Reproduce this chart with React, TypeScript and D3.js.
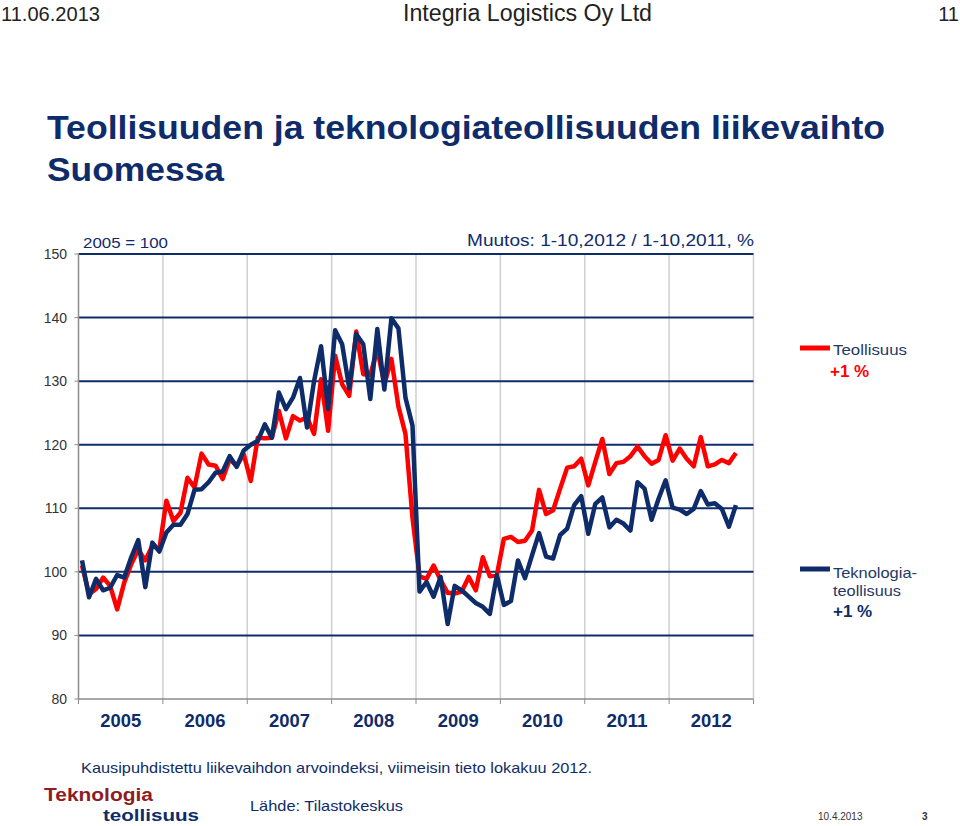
import React from "react";
import * as d3 from "d3";

const years = ["2005", "2006", "2007", "2008", "2009", "2010", "2011", "2012"];
const yTicks = [80, 90, 100, 110, 120, 130, 140, 150];

// Monthly index values Jan 2005 - Oct 2012 (2005 = 100)
const teollisuus = [
  101.0, 96.5, 97.3, 99.1, 97.8, 94.1, 98.3, 101.2, 103.5, 101.8, 104.1, 103.6,
  111.2, 108.0, 109.3, 114.8, 113.3, 118.6, 116.9, 116.7, 114.6, 117.7, 116.7, 118.5,
  114.3, 121.1, 121.0, 121.1, 125.3, 121.0, 124.5, 123.8, 124.3, 121.7, 130.3, 122.2,
  134.0, 129.5, 127.7, 137.8, 131.1, 131.0, 135.0, 129.5, 133.5, 126.0, 121.7, 108.5,
  99.3, 98.9, 101.0, 98.7, 96.7, 96.6, 96.9, 99.2, 97.1, 102.3, 99.3, 99.5,
  105.2, 105.5, 104.7, 104.9, 106.5, 112.9, 109.1, 109.7, 113.1, 116.4, 116.6, 117.8,
  113.6, 117.3, 120.9, 115.4, 117.1, 117.3, 118.2, 119.7, 118.2, 117.0, 117.6, 121.5,
  117.5, 119.4, 117.8, 116.6, 121.2, 116.6, 116.9, 117.6, 117.1, 118.7,
];
const teknologiateollisuus = [
  101.8, 96.0, 98.9, 97.1, 97.5, 99.5, 99.1, 102.3, 105.0, 97.6, 104.6, 103.2,
  106.2, 107.4, 107.4, 109.1, 112.9, 113.0, 114.1, 115.6, 115.8, 118.2, 116.5, 119.1,
  120.0, 120.6, 123.2, 121.1, 128.2, 125.6, 127.4, 130.5, 122.7, 130.0, 135.5, 125.6,
  138.0, 135.8, 128.9, 137.4, 135.8, 127.2, 138.2, 128.7, 139.9, 138.3, 127.4, 123.0,
  96.9, 98.4, 96.1, 99.2, 91.8, 97.8, 97.1, 96.1, 95.1, 94.5, 93.4, 99.5,
  94.8, 95.4, 101.8, 99.0, 102.6, 106.1, 102.4, 102.1, 105.8, 106.8, 110.5, 111.9,
  106.0, 110.7, 111.7, 107.0, 108.2, 107.6, 106.5, 114.1, 113.1, 108.2, 111.5, 114.4,
  110.1, 109.8, 109.1, 109.9, 112.7, 110.6, 110.8, 109.9, 107.1, 110.5,
];

const NAVY = "#0f2c6a";
const RED = "#ff0000";
const FONT = "'Liberation Sans', Arial, sans-serif";

export default function App() {
  const x = d3.scaleLinear().domain([0, years.length * 12]).range([78.5, 753.5]);
  const y = d3.scaleLinear().domain([80, 150]).range([699, 254]);
  const line = d3
    .line<number>()
    .x((_, i) => x(i + 0.5))
    .y((d) => y(d));

  return (
    <svg
      width={960}
      height={826}
      style={{ position: "absolute", left: 0, top: 0, background: "#fff" }}
      fontFamily={FONT}
    >
      {/* page header */}
      <text x={1} y={21} fontSize={20} fill="#222" textLength={99} lengthAdjust="spacingAndGlyphs">11.06.2013</text>
      <text x={403} y={21} fontSize={23} fill="#222" textLength={249} lengthAdjust="spacingAndGlyphs">Integria Logistics Oy Ltd</text>
      <text x={959} y={21} fontSize={20} fill="#222" textAnchor="end">11</text>

      {/* title */}
      <text x={47} y={139} fontSize={33} fontWeight="bold" fill={NAVY} textLength={838} lengthAdjust="spacingAndGlyphs">
        Teollisuuden ja teknologiateollisuuden liikevaihto
      </text>
      <text x={47} y={181} fontSize={33} fontWeight="bold" fill={NAVY} textLength={177} lengthAdjust="spacingAndGlyphs">
        Suomessa
      </text>

      {/* subtitles */}
      <text x={83} y={248} fontSize={14} fill={NAVY} textLength={85} lengthAdjust="spacingAndGlyphs">2005 = 100</text>
      <text x={754} y={246} fontSize={17} fill={NAVY} textAnchor="end" textLength={287} lengthAdjust="spacingAndGlyphs">
        Muutos: 1-10,2012 / 1-10,2011, %
      </text>

      {/* vertical year gridlines */}
      {years.map((_, k) => (
        <line key={"vg" + k} x1={x((k + 1) * 12)} x2={x((k + 1) * 12)} y1={y(150)} y2={y(80)} stroke="#cfcfcf" strokeWidth={1.5} />
      ))}

      {/* horizontal gridlines */}
      {yTicks.map((t) =>
        t === 80 ? null : (
          <line key={"hg" + t} x1={x(0)} x2={x(96)} y1={y(t)} y2={y(t)} stroke={NAVY} strokeWidth={2} />
        )
      )}

      {/* axes */}
      <line x1={x(0)} x2={x(0)} y1={y(150)} y2={y(80)} stroke="#8c8c8c" strokeWidth={1.5} />
      <line x1={x(0)} x2={x(96)} y1={y(80)} y2={y(80)} stroke="#8c8c8c" strokeWidth={1.5} />
      {yTicks.map((t) => (
        <g key={"yt" + t}>
          <line x1={x(0) - 4} x2={x(0)} y1={y(t)} y2={y(t)} stroke="#8c8c8c" strokeWidth={1} />
          <text x={67} y={y(t) + 5} fontSize={14} fill="#333" textAnchor="end">{t}</text>
        </g>
      ))}
      {d3.range(years.length + 1).map((k) => (
        <line key={"xt" + k} x1={x(k * 12)} x2={x(k * 12)} y1={y(80)} y2={y(80) + 5} stroke="#8c8c8c" strokeWidth={1} />
      ))}
      {years.map((yr, k) => (
        <text key={yr} x={x(k * 12 + 6)} y={727} fontSize={18} fontWeight="bold" fill={NAVY} textAnchor="middle" textLength={41} lengthAdjust="spacingAndGlyphs">
          {yr}
        </text>
      ))}

      {/* series */}
      <path d={line(teollisuus) || ""} fill="none" stroke={RED} strokeWidth={4.5} strokeLinejoin="round" />
      <path d={line(teknologiateollisuus) || ""} fill="none" stroke={NAVY} strokeWidth={4.5} strokeLinejoin="round" />

      {/* legend */}
      <line x1={800} x2={830} y1={348} y2={348} stroke={RED} strokeWidth={5} />
      <text x={833} y={355} fontSize={15} fill="#1f3864" textLength={74} lengthAdjust="spacingAndGlyphs">Teollisuus</text>
      <text x={830} y={377} fontSize={17} fontWeight="bold" fill={RED}>+1 %</text>

      <line x1={800} x2={830} y1={569} y2={569} stroke={NAVY} strokeWidth={5} />
      <text x={833} y={578} fontSize={15} fill="#1f3864" textLength={84} lengthAdjust="spacingAndGlyphs">Teknologia-</text>
      <text x={833} y={596} fontSize={15} fill="#1f3864" textLength={68} lengthAdjust="spacingAndGlyphs">teollisuus</text>
      <text x={833} y={617} fontSize={17} fontWeight="bold" fill={NAVY}>+1 %</text>

      {/* footnotes */}
      <text x={81} y={773} fontSize={15} fill={NAVY} textLength={511} lengthAdjust="spacingAndGlyphs">
        Kausipuhdistettu liikevaihdon arvoindeksi, viimeisin tieto lokakuu 2012.
      </text>
      <text x={44} y={801} fontSize={18} fontWeight="bold" fill="#8e1c22" textLength={109} lengthAdjust="spacingAndGlyphs">Teknologia</text>
      <text x={103} y={821} fontSize={17} fontWeight="bold" fill={NAVY} textLength={96} lengthAdjust="spacingAndGlyphs">teollisuus</text>
      <text x={250} y={811} fontSize={15} fill={NAVY} textLength={153} lengthAdjust="spacingAndGlyphs">Lähde: Tilastokeskus</text>
      <text x={818} y={820} fontSize={10} fill="#333">10.4.2013</text>
      <text x={922} y={820} fontSize={10} fontWeight="bold" fill="#333">3</text>
    </svg>
  );
}
